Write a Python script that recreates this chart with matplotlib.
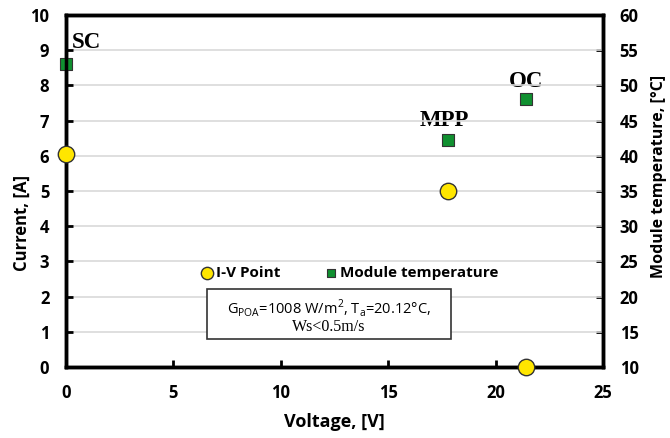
import matplotlib
matplotlib.use('Agg')
import matplotlib.pyplot as plt
from matplotlib.patches import Rectangle

# I-V points
voltage = [0.0, 17.8, 21.4]
current = [6.05, 5.0, 0.0]
# module temperature at each point
temperature = [53.0, 42.2, 48.0]
point_labels = ['SC', 'MPP', 'OC']

plt.rcParams['font.family'] = ['Open Sans', 'DejaVu Sans']

fig = plt.figure(figsize=(6.7, 4.38), dpi=100)
ax = fig.add_axes([0.0985, 0.162, 0.8015, 0.804])
ax2 = ax.twinx()

ax.set_xlim(0, 25)
ax.set_ylim(0, 10)
ax2.set_ylim(10, 60)
ax.set_xticks(range(0, 26, 5))
ax.set_yticks(range(0, 11))
ax2.set_yticks(range(10, 61, 5))
ax.grid(axis='y', color='#d9d9d9', linewidth=1.2, zorder=0)
ax.set_axisbelow(True)

for a in (ax, ax2):
    for s in a.spines.values():
        s.set_linewidth(2.5)
    a.tick_params(direction='in', width=2, length=5, labelsize=12, pad=12)
    for lab in a.get_xticklabels() + a.get_yticklabels():
        lab.set_fontweight('bold')
ax.tick_params(axis='x', pad=12)

ax2.scatter(voltage, temperature, marker='s', s=70, color='#109030',
            edgecolor='#333333', linewidth=0.8, zorder=4, clip_on=False,
            label='Module temperature')
ax.scatter(voltage, current, marker='o', s=140, color='#ffe600',
           edgecolor='#333333', linewidth=1, zorder=5, clip_on=False,
           label='I-V Point')
ax.set_zorder(ax2.get_zorder() + 1)
ax.patch.set_visible(False)

# label offsets in points
offsets = [(4, 8), (-3, 7), (0, 5)]
for v, t, lab, (dx, dy) in zip(voltage, temperature, point_labels, offsets):
    ax2.annotate(lab, (v, t), xytext=(dx, dy), textcoords='offset points',
                 ha='left' if dx > 0 else 'center', va='bottom',
                 fontsize=16.5, fontweight='bold', family='Liberation Serif')

ax.set_xlabel('Voltage, [V]', fontsize=13, fontweight='bold', labelpad=8)
ax.set_ylabel('Current, [A]', fontsize=12, fontweight='bold')
ax.yaxis.set_label_coords(-0.066, 0.409)
ax2.set_ylabel('Module temperature, [°C]', fontsize=11.5, fontweight='bold')
ax2.yaxis.set_label_coords(1.09, 0.54)

h1, l1 = ax.get_legend_handles_labels()
h2, l2 = ax2.get_legend_handles_labels()
leg = ax.legend(h1 + h2, l1 + l2, loc='center', bbox_to_anchor=(0.525, 0.267),
                ncol=2, frameon=False, handletextpad=0.0, columnspacing=2.7,
                handlelength=1.2, markerscale=0.75,
                prop={'weight': 'bold', 'size': 11})

ax.add_patch(Rectangle((0.2626, 0.0795), 0.4544, 0.1421, transform=ax.transAxes,
                       facecolor='white', edgecolor='#333333', linewidth=1.2, zorder=6))
ax.text(0.49, 0.1676, 'G$_{\\mathregular{POA}}$=1008 W/m$^{\\mathregular{2}}$, T$_{\\mathregular{a}}$=20.12°C,',
        transform=ax.transAxes, ha='center', va='center', fontsize=10.5, zorder=7)
ax.text(0.49, 0.1136, 'Ws<0.5m/s', transform=ax.transAxes, ha='center', va='center',
        fontsize=11.5, family='Liberation Serif', zorder=7)

fig.savefig('out.png', dpi=100)
